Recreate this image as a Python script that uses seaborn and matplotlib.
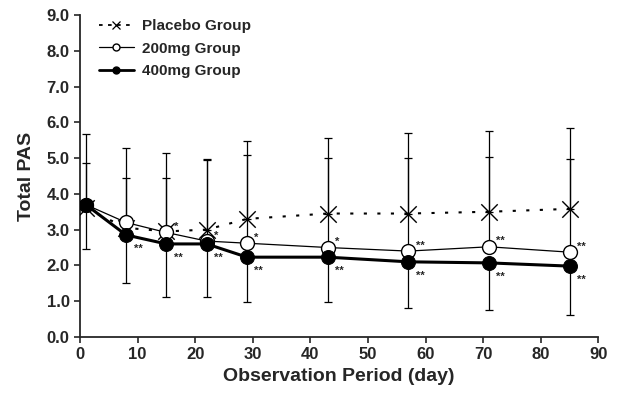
import numpy as np
import pandas as pd
import matplotlib.pyplot as plt
from matplotlib.lines import Line2D
import seaborn as sns

days = [1, 8, 15, 22, 29, 43, 57, 71, 85]
placebo = [3.6, 3.05, 2.95, 3.0, 3.3, 3.45, 3.45, 3.5, 3.58]
mg200 = [3.7, 3.2, 2.92, 2.68, 2.62, 2.5, 2.4, 2.52, 2.37]
mg400 = [3.7, 2.85, 2.6, 2.6, 2.23, 2.23, 2.1, 2.07, 1.98]
placebo_top = [5.67, 5.28, 5.15, 4.98, 5.47, 5.55, 5.7, 5.75, 5.85]
mg200_top = [4.86, 4.44, 4.44, 4.94, 5.08, 5.0, 5.0, 5.03, 4.97]
mg400_bottom = [2.47, 1.5, 1.13, 1.13, 0.97, 0.98, 0.8, 0.75, 0.6]
stars200 = ['', '', '*', '*', '*', '*', '**', '**', '**']
stars400 = ['', '**', '**', '**', '**', '**', '**', '**', '**']

df = pd.DataFrame({'day': days * 3,
                   'pas': placebo + mg200 + mg400,
                   'group': ['Placebo Group'] * 9 + ['200mg Group'] * 9 + ['400mg Group'] * 9})

sns.set_style("ticks")
plt.rcParams['font.family'] = ['Liberation Sans', 'DejaVu Sans']
plt.rcParams['font.weight'] = 'bold'

fig = plt.figure(figsize=(6.2, 3.95), dpi=100)
ax = fig.add_axes([0.129, 0.147, 0.836, 0.815])

# error bars (one-sided)
ebkw = dict(fmt='none', ecolor='black', elinewidth=0.9, capsize=3, capthick=0.9, zorder=1)
ax.errorbar(days, placebo, yerr=[np.zeros(9), np.array(placebo_top) - np.array(placebo)], **ebkw)
ax.errorbar(days, mg200, yerr=[np.zeros(9), np.array(mg200_top) - np.array(mg200)], **ebkw)
ax.errorbar(days, mg400, yerr=[np.array(mg400) - np.array(mg400_bottom), np.zeros(9)], **ebkw)

sub = df[df.group == 'Placebo Group']
sns.lineplot(data=sub, x='day', y='pas', ax=ax, color='black', linewidth=1.5,
             linestyle=(0, (1.5, 5)), legend=False, zorder=3)
ax.scatter(sub.day, sub.pas, marker='x', s=140, color='black', linewidths=1.0, zorder=3)
sub = df[df.group == '200mg Group']
sns.lineplot(data=sub, x='day', y='pas', ax=ax, color='black', linewidth=0.9,
             marker='o', markersize=10, markerfacecolor='white', markeredgecolor='black',
             markeredgewidth=1.0, legend=False, zorder=4)
sub = df[df.group == '400mg Group']
sns.lineplot(data=sub, x='day', y='pas', ax=ax, color='black', linewidth=2.2,
             marker='o', markersize=10, markerfacecolor='black', markeredgecolor='black',
             legend=False, zorder=5)

for d, v, s in zip(days, mg200, stars200):
    if s:
        ax.text(d + 1.3, v + 0.02, s, fontsize=8, fontweight='bold', ha='left', va='bottom')
for d, v, s in zip(days, mg400, stars400):
    if s:
        ax.text(d + 1.3, v - 0.25, s, fontsize=8, fontweight='bold', ha='left', va='top')

ax.set_xlim(0, 90)
ax.set_ylim(0, 9)
ax.set_xticks(range(0, 91, 10))
ax.set_yticks(np.arange(0, 9.1, 1.0))
ax.set_yticklabels([f'{v:.1f}' for v in np.arange(0, 9.1, 1.0)])
ax.tick_params(labelsize=12, width=1.2, length=4, direction='out')
for lab in ax.get_xticklabels() + ax.get_yticklabels():
    lab.set_fontweight('bold')
sns.despine(ax=ax)
ax.spines['left'].set_linewidth(1.3)
ax.spines['bottom'].set_linewidth(1.3)
ax.set_xlabel('Observation Period (day)', fontsize=14, fontweight='bold')
ax.set_ylabel('Total PAS', fontsize=14, fontweight='bold', labelpad=8)

handles = [
    Line2D([], [], color='black', linewidth=1.3, linestyle=(0, (2, 3)), marker='x',
           markersize=6, markeredgewidth=0.9),
    Line2D([], [], color='black', linewidth=0.9, marker='o', markersize=5,
           markerfacecolor='white', markeredgecolor='black'),
    Line2D([], [], color='black', linewidth=2.0, marker='o', markersize=5,
           markerfacecolor='black'),
]
leg = ax.legend(handles, ['Placebo Group', '200mg Group', '400mg Group'], loc='upper left',
                bbox_to_anchor=(0.01, 1.03), frameon=False, fontsize=11, handlelength=2.3,
                labelspacing=0.55, handletextpad=0.5)
for t in leg.get_texts():
    t.set_fontweight('bold')

fig.savefig('out.png', dpi=100)
